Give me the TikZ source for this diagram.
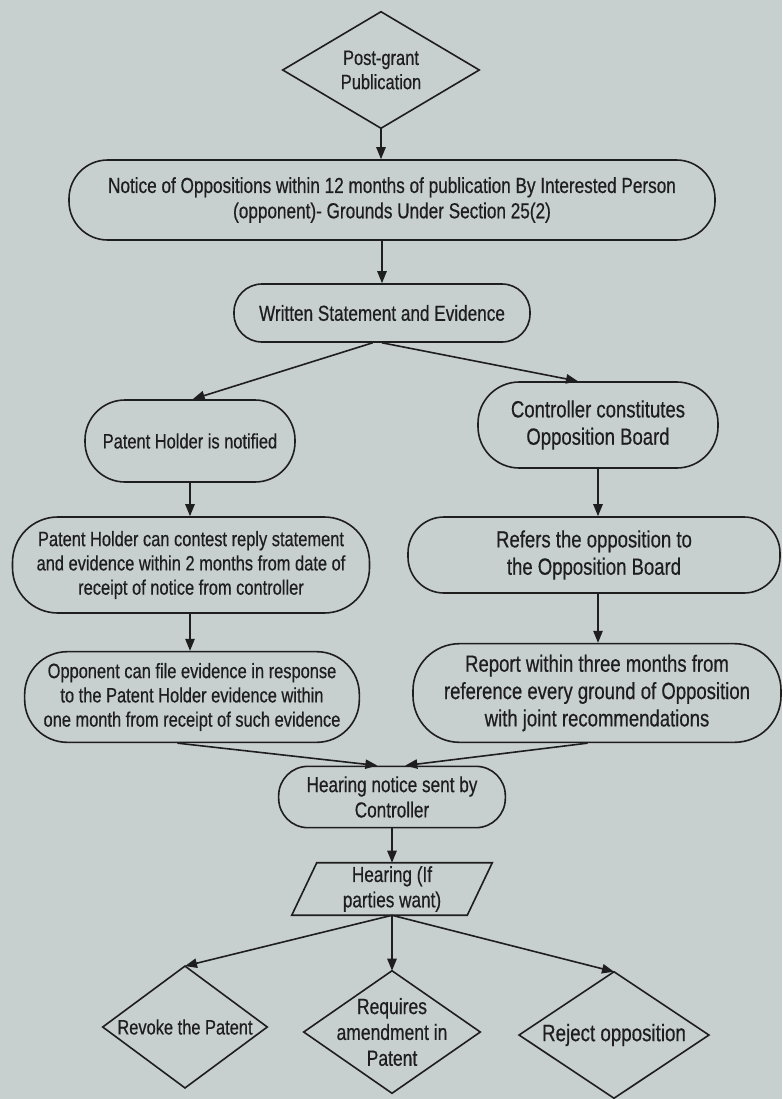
\documentclass[tikz,border=0pt]{standalone}
\usepackage{fontspec}
\setmainfont{Liberation Sans}[FakeStretch=0.79,FakeBold=0.5]
\usetikzlibrary{arrows.meta,calc}
\definecolor{paper}{HTML}{C8CFCF}
\definecolor{ink}{HTML}{1E1E1E}
\tikzset{
  flow/.style={draw=ink, line width=1.2pt, rounded corners=20pt, align=center,
    inner sep=0pt, text=ink},
  plain/.style={inner sep=0pt, align=center, text=ink},
  shapeline/.style={draw=ink, line width=1.2pt, line join=miter},
  conn/.style={draw=ink, line width=1.2pt, -{Triangle[length=9pt,width=7pt]}},
  fl/.style={font=\fontsize{15.6}{18.2}\selectfont},
  fc/.style={font=\fontsize{16.3}{19}\selectfont},
  fr/.style={font=\fontsize{17.6}{20.5}\selectfont},
}
\begin{document}
\begin{tikzpicture}[x=0.75pt,y=-0.75pt]
  \fill[paper] (0,0) rectangle (782,1099);
  \useasboundingbox (0,0) rectangle (782,1099);

  % start: publication diamond
  \node[plain, fl, minimum width=147pt, minimum height=87pt] (pub) at (381,70)
    {Post-grant\\Publication};
  \draw[shapeline] (pub.north) -- (pub.east) -- (pub.south) -- (pub.west) -- cycle;

  % opposition notice and written statement
  \node[flow, fc, minimum width=484.5pt, minimum height=60pt, rounded corners=29pt] (notice) at (392,200)
    {Notice of Oppositions within 12 months of publication By Interested Person\\(opponent)- Grounds Under Section 25(2)};
  \node[flow, fc, minimum width=222pt, minimum height=43.5pt, rounded corners=21pt] (written) at (382,313)
    {Written Statement and Evidence};

  % left branch: patent holder
  \node[flow, fl, minimum width=157.5pt, minimum height=61.5pt, rounded corners=30pt] (notified) at (190,441)
    {Patent Holder is notified};
  \node[flow, fl, minimum width=267.75pt, minimum height=72pt, rounded corners=34pt] (contest) at (191,565)
    {Patent Holder can contest reply statement\\and evidence within 2 months from date of\\receipt of notice from controller};
  \node[flow, fl, minimum width=251pt, minimum height=68pt, rounded corners=32pt] (opponent) at (192,697)
    {Opponent can file evidence in response\\to the Patent Holder evidence within\\one month from receipt of such evidence};

  % right branch: opposition board
  \node[flow, fr, minimum width=180pt, minimum height=64.5pt, rounded corners=31pt] (board) at (598,425)
    {Controller constitutes\\Opposition Board};
  \node[flow, fr, minimum width=279pt, minimum height=57pt, rounded corners=27pt] (refers) at (594,555)
    {Refers the opposition to\\the Opposition Board};
  \node[flow, fr, minimum width=276pt, minimum height=74pt, rounded corners=35pt] (report) at (597,693)
    {Report within three months from\\reference every ground of Opposition\\with joint recommendations};

  % hearing
  \node[flow, fc, minimum width=170pt, minimum height=46pt, rounded corners=22pt] (hearnote) at (392,797)
    {Hearing notice sent by\\Controller};
  \node[plain, fc, minimum width=150pt, minimum height=39pt] (hearing) at (392,889)
    {Hearing (If\\parties want)};
  \draw[shapeline] (hearing.south west) -- ($(hearing.south east)+(-25,0)$)
    -- (hearing.north east) -- ($(hearing.north west)+(25,0)$) -- cycle;

  % outcomes
  \node[plain, font=\fontsize{15.6}{18.2}\selectfont, minimum width=123pt, minimum height=91pt] (revoke) at (185,1027)
    {Revoke the Patent};
  \draw[shapeline] (revoke.north) -- (revoke.east) -- (revoke.south) -- (revoke.west) -- cycle;
  \node[plain, font=\fontsize{16.6}{19.4}\selectfont, minimum width=132pt, minimum height=91.5pt] (amend) at (392,1032)
    {Requires\\amendment in\\Patent};
  \draw[shapeline] (amend.north) -- (amend.east) -- (amend.south) -- (amend.west) -- cycle;
  \node[plain, font=\fontsize{17.8}{20.5}\selectfont, minimum width=142pt, minimum height=94.5pt] (reject) at (614,1035)
    {Reject opposition};
  \draw[shapeline] (reject.north) -- (reject.east) -- (reject.south) -- (reject.west) -- cycle;

  % connectors
  \draw[conn] (pub.south) -- (pub.south |- notice.north);
  \draw[conn] (notice.south -| written.north) -- (written.north);
  \draw[conn] ([xshift=-7pt]written.south) -- ([xshift=2pt]notified.north);
  \draw[conn] (written.south) -- ([xshift=-15pt]board.north);
  \draw[conn] (notified.south) -- (notified.south |- contest.north);
  \draw[conn] (notified.south |- contest.south) -- (notified.south |- opponent.north);
  \draw[conn] (board.south) -- (board.south |- refers.north);
  \draw[conn] (board.south |- refers.south) -- (board.south |- report.north);
  \draw[conn] ([xshift=-11pt]opponent.south) -- ([xshift=-11pt]hearnote.north);
  \draw[conn] ([xshift=-7pt]report.south) -- ([xshift=10pt]hearnote.north);
  \draw[conn] (hearnote.south) -- (hearnote.south |- hearing.north);
  \draw[conn] (hearing.south) -- (revoke.north);
  \draw[conn] (hearing.south) -- (hearing.south |- amend.north);
  \draw[conn] (hearing.south) -- (reject.north);
\end{tikzpicture}
\end{document}
